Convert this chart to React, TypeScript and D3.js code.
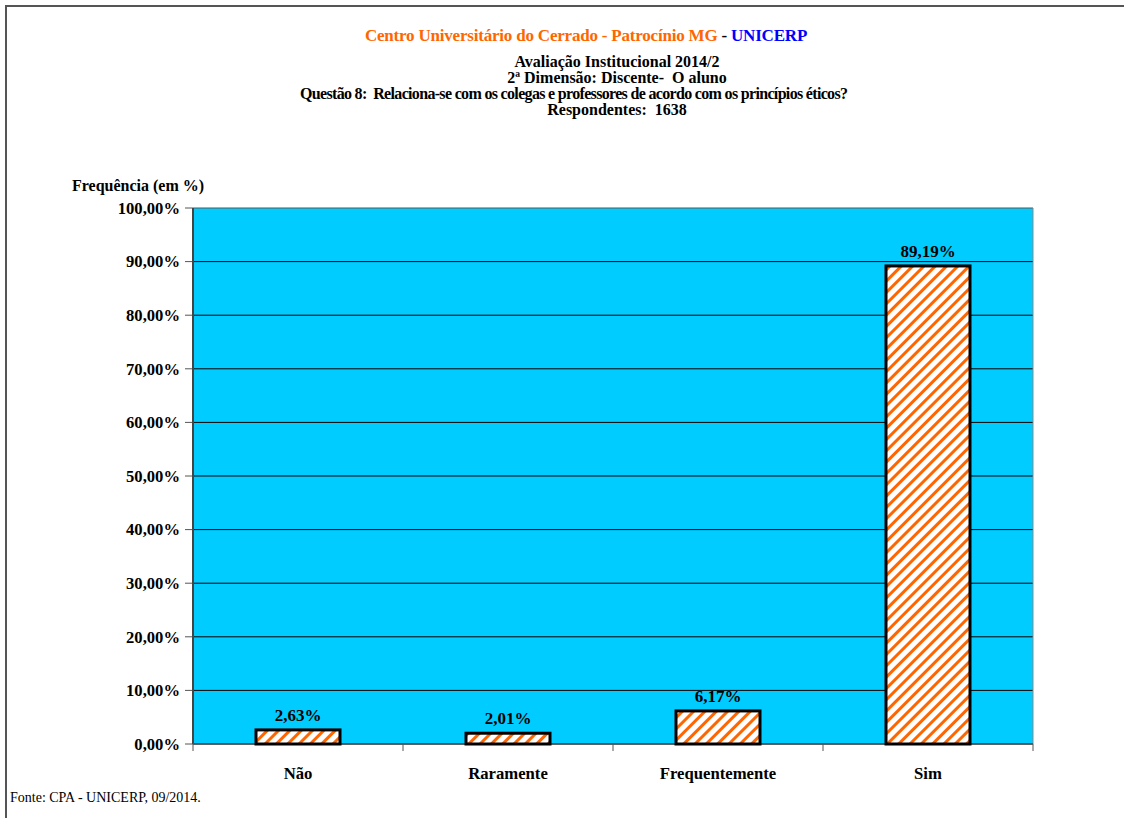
import React from "react";
import * as d3 from "d3";

const categories = ["Não", "Raramente", "Frequentemente", "Sim"];
const values = [2.63, 2.01, 6.17, 89.19];
const valueLabels = ["2,63%", "2,01%", "6,17%", "89,19%"];
const yTicks = [0, 10, 20, 30, 40, 50, 60, 70, 80, 90, 100];
const subtitleLines = [
  "Avaliação Institucional 2014/2",
  "2ª Dimensão: Discente-  O aluno",
  "Questão 8:  Relaciona-se com os colegas e professores de acordo com os princípios éticos?",
  "Respondentes:  1638",
];

const W = 1124;
const H = 818;
const plot = { left: 193, right: 1033, top: 208, bottom: 744 };
const font = "'Liberation Serif', 'Times New Roman', serif";

export default function App() {
  const x = d3.scaleBand<string>().domain(categories).range([plot.left, plot.right]).paddingInner(0.6).paddingOuter(0.3);
  const xb = d3.scaleBand<string>().domain(categories).range([plot.left, plot.right]);
  const y = d3.scaleLinear().domain([0, 100]).range([plot.bottom, plot.top]);
  const fmt = (v: number) => v.toFixed(2).replace(".", ",") + "%";

  return (
    <svg width={W} height={H} style={{ position: "absolute", left: 0, top: 0 }} fontFamily={font}>
      <defs>
        <pattern id="stripes" patternUnits="userSpaceOnUse" width="8" height="8" patternTransform="rotate(45)">
          <rect width="8" height="8" fill="#fff" />
          <rect x="0" y="0" width="3" height="8" fill="#FF6600" />
        </pattern>
      </defs>
      <rect x={0} y={0} width={W} height={H} fill="#fff" />
      <rect x={6} y={6} width={W + 10} height={H + 10} fill="none" stroke="#555" strokeWidth={2} />

      <text x={586} y={41} textAnchor="middle" fontWeight="bold" fontSize={17} letterSpacing={-0.2}>
        <tspan fill="#FF6600">Centro Universitário do Cerrado - Patrocínio MG</tspan>
        <tspan fill="#000"> - </tspan>
        <tspan fill="#0000FF">UNICERP</tspan>
      </text>
      {subtitleLines.map((s, i) => (
        <text
          key={i}
          x={i === 2 ? 574 : 617}
          y={67 + i * 16}
          textAnchor="middle"
          fontWeight="bold"
          fontSize={16}
          fill="#000"
          style={{ whiteSpace: "pre" }}
          {...(i === 2 ? { textLength: 548, lengthAdjust: "spacing" } : {})}
        >
          {s}
        </text>
      ))}

      <text x={72} y={191} fontWeight="bold" fontSize={16} fill="#000">Frequência (em %)</text>

      <rect x={plot.left} y={plot.top} width={plot.right - plot.left} height={plot.bottom - plot.top} fill="#00CCFF" />
      {yTicks.map((t) => (
        <g key={t}>
          <line x1={plot.left} x2={plot.right} y1={y(t)} y2={y(t)} stroke={t === 100 ? "#555" : "#000"} strokeWidth={1} />
          <line x1={plot.left - 8} x2={plot.left} y1={y(t)} y2={y(t)} stroke="#555" strokeWidth={1} />
          <text x={180} y={y(t)} dy="0.35em" textAnchor="end" fontWeight="bold" fontSize={16.6} fill="#000">
            {fmt(t)}
          </text>
        </g>
      ))}
      <line x1={plot.right} x2={plot.right} y1={plot.top} y2={plot.bottom} stroke="#888" strokeWidth={1} />
      <line x1={plot.left} x2={plot.left} y1={plot.top} y2={plot.bottom} stroke="#444" strokeWidth={2} />
      <line x1={plot.left} x2={plot.right} y1={plot.bottom} y2={plot.bottom} stroke="#555" strokeWidth={1.5} />
      {[...categories.map((c) => xb(c)!), plot.right].map((px, i) => (
        <line key={i} x1={px} x2={px} y1={plot.bottom} y2={plot.bottom + 7} stroke="#555" strokeWidth={1} />
      ))}

      {categories.map((c, i) => (
        <g key={c}>
          <rect
            x={x(c)!}
            y={y(values[i])}
            width={x.bandwidth()}
            height={plot.bottom - y(values[i])}
            fill="url(#stripes)"
            stroke="#000"
            strokeWidth={3}
          />
          <text x={x(c)! + x.bandwidth() / 2} y={y(values[i]) - 9} textAnchor="middle" fontWeight="bold" fontSize={17} fill="#000">
            {valueLabels[i]}
          </text>
          <text x={xb(c)! + xb.bandwidth() / 2} y={779} textAnchor="middle" fontWeight="bold" fontSize={16.7} fill="#000">
            {c}
          </text>
        </g>
      ))}

      <text x={10} y={802} fontSize={14} fill="#000">Fonte: CPA - UNICERP, 09/2014.</text>
    </svg>
  );
}
